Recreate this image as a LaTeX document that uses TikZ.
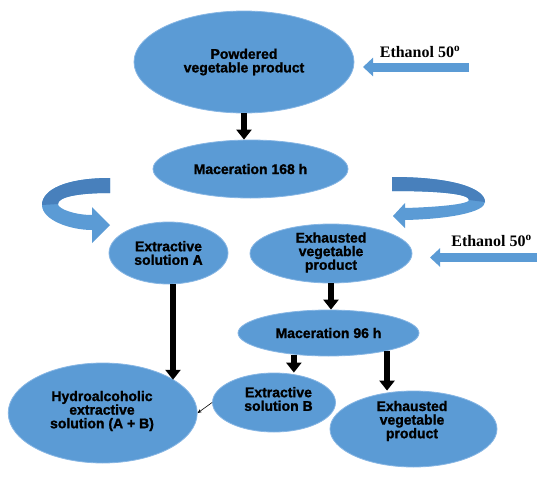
\documentclass[tikz,border=0pt]{standalone}
\usepackage{fontspec}
\setmainfont{Liberation Serif}
\newfontfamily\heavy{Liberation Sans Bold}[FakeBold=1.3]
\usetikzlibrary{shapes.geometric,arrows.meta}
\definecolor{eblue}{RGB}{91,155,213}
\definecolor{eedge}{RGB}{135,182,228}
\definecolor{dblue}{RGB}{72,128,188}
\tikzset{
 ell/.style={ellipse, fill=eblue, draw=eedge, line width=0.8pt, inner sep=0pt, align=center,
   font=\heavy\fontsize{14}{13.6}\selectfont, text=black},
 txt/.style={align=center, inner sep=0pt, font=\heavy\fontsize{14}{13.6}\selectfont, text=black},
 blk/.style={line width=5.5pt, black, -{Triangle[width=15pt,length=10pt]}},
 thin/.style={line width=0.6pt, black, -{Stealth[length=4pt,width=3.5pt]}},
 bluearrow/.style={line width=9pt, eblue, -{Triangle[width=18pt,length=10pt]}},
 eth/.style={inner sep=0pt, font=\bfseries\fontsize{16}{18}\selectfont}
}
\begin{document}
\begin{tikzpicture}[x=1pt,y=-1pt]
\useasboundingbox (0,0) rectangle (550,477);

% curved arrows
\fill[eblue] (110,178) .. controls (65,178) and (42,190) .. (42,205)
  .. controls (42,220) and (70,230) .. (92,230) -- (92,243) -- (110,225) -- (92,207) -- (92,215)
  .. controls (75,215) and (58,209) .. (58,204) .. controls (58,197) and (78,193) .. (110,193) -- cycle;
\fill[dblue] (110,178) .. controls (65,178) and (42,190) .. (42,205) -- (58,204)
  .. controls (58,197) and (78,193) .. (110,193) -- cycle;

\fill[eblue] (392,177) .. controls (455,177) and (485,189) .. (485,202)
  .. controls (485,212) and (450,219) .. (405,220) -- (405,228) -- (393,216) -- (405,203) -- (405,208)
  .. controls (440,207) and (469,204) .. (469,200) .. controls (469,194) and (440,191) .. (392,191) -- cycle;
\fill[dblue] (392,177) .. controls (455,177) and (485,189) .. (485,202) -- (469,200)
  .. controls (469,194) and (440,191) .. (392,191) -- cycle;

% ellipses
\node[ell, minimum width=220pt, minimum height=102pt] (pvp) at (244,62) {Powdered\\vegetable product};
\node[ell, minimum width=195pt, minimum height=58pt] (mac1) at (250.5,169) {Maceration 168 h};
\node[ell, minimum width=119pt, minimum height=62pt] (exa) at (168.5,253) {Extractive\\solution A};
\node[ell, minimum width=162pt, minimum height=59pt] (exh1) at (331,253.5) {};
\node[txt] (exh1t) at (331,252.5) {Exhausted\\vegetable\\product};
\node[ell, minimum width=181pt, minimum height=46pt] (mac2) at (328.5,333) {Maceration 96 h};
\node[ell, minimum width=189pt, minimum height=100pt] (hyd) at (102.7,413) {};
\node[txt] (hydt) at (102,411) {Hydroalcoholic\\extractive\\solution (A + B)};
\node[ell, minimum width=123pt, minimum height=59pt] (exb) at (274,402.5) {};
\node[txt] (exbt) at (278.5,399) {Extractive\\solution B};
\node[ell, minimum width=167pt, minimum height=76pt] (exh2) at (413.5,429) {};
\node[txt] (exh2t) at (412,421) {Exhausted\\vegetable\\product};

% ethanol labels and arrows
\node[eth] (eth1) at (420,52) {Ethanol 50\textsuperscript{o}};
\coordinate (eth1s) at (469,67);
\coordinate (eth1e) at (363,67);
\draw[bluearrow] (eth1s) -- (eth1e);

\node[eth] (eth2) at (491.5,241) {Ethanol 50\textsuperscript{o}};
\coordinate (eth2s) at (537,257.5);
\coordinate (eth2e) at (430,257.5);
\draw[bluearrow] (eth2s) -- (eth2e);

% black arrows
\draw[blk] (pvp.south) -- (pvp.south |- mac1.north);
\draw[blk] ([xshift=4.5pt]exa.south) -- ([xshift=4.5pt]exa.south |- hyd.25);
\draw[blk] (exh1.south) -- (exh1.south |- mac2.north);
\draw[blk] (mac2.212) -- (mac2.212 |- exb.north);
\draw[blk] (mac2.-17) -- (mac2.-17 |- exh2.north);
\draw[thin] (exb.west) -- (hyd.east);
\end{tikzpicture}
\end{document}
